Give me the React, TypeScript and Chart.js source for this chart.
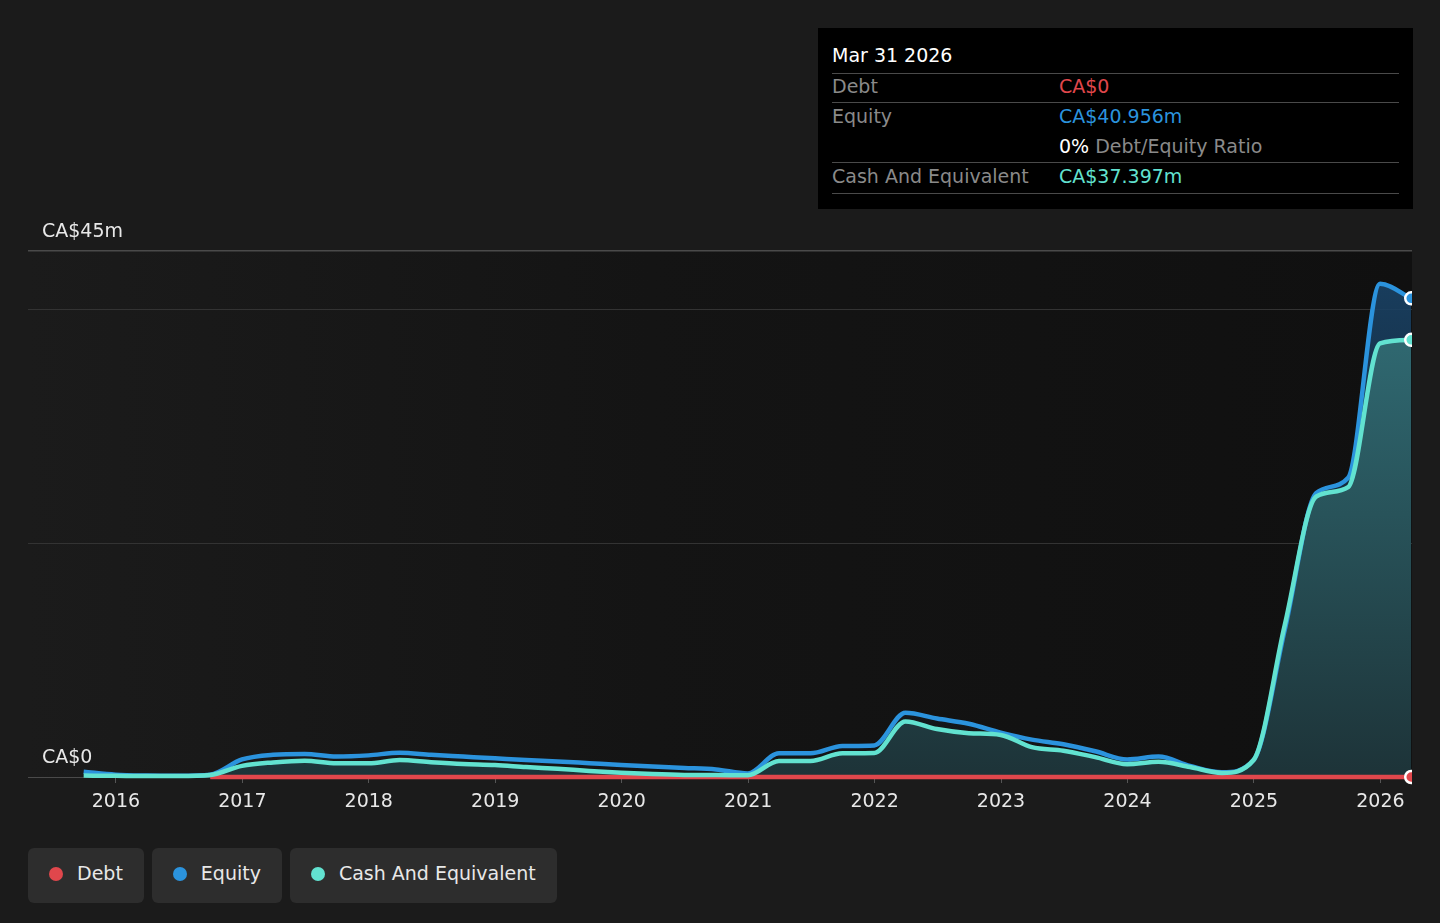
import React, { useEffect, useRef } from "react";
import { Chart, registerables } from "chart.js";

Chart.register(...registerables);

// ---- data (CA$ millions) ----
const quarterEnds = [
  "2015-09-30", "2015-12-31",
  "2016-03-31", "2016-06-30", "2016-09-30", "2016-12-31",
  "2017-03-31", "2017-06-30", "2017-09-30", "2017-12-31",
  "2018-03-31", "2018-06-30", "2018-09-30", "2018-12-31",
  "2019-03-31", "2019-06-30", "2019-09-30", "2019-12-31",
  "2020-03-31", "2020-06-30", "2020-09-30", "2020-12-31",
  "2021-03-31", "2021-06-30", "2021-09-30", "2021-12-31",
  "2022-03-31", "2022-06-30", "2022-09-30", "2022-12-31",
  "2023-03-31", "2023-06-30", "2023-09-30", "2023-12-31",
  "2024-03-31", "2024-06-30", "2024-09-30", "2024-12-31",
  "2025-03-31", "2025-06-30", "2025-09-30", "2025-12-31",
  "2026-03-31",
];

const equityM = [
  0.45, 0.2,
  0.12, 0.1, 0.2, 1.5,
  1.9, 1.97, 1.75, 1.85,
  2.08, 1.9, 1.75, 1.6,
  1.45, 1.33, 1.18, 1.03,
  0.9, 0.78, 0.65, 0.3,
  2.03, 2.03, 2.65, 2.7,
  5.5, 5.0, 4.55, 3.8,
  3.2, 2.8, 2.2, 1.5,
  1.75, 0.95, 0.4, 1.45,
  12.6, 24.3, 25.6, 42.2,
  40.956,
];

const cashM = [
  0.12, 0.1,
  0.08, 0.08, 0.17, 0.95,
  1.25, 1.4, 1.17, 1.17,
  1.45, 1.27, 1.12, 1.03,
  0.85, 0.7, 0.52, 0.37,
  0.25, 0.18, 0.17, 0.15,
  1.37, 1.37, 2.03, 2.05,
  4.75, 4.1, 3.75, 3.6,
  2.55, 2.25, 1.7, 1.1,
  1.3, 0.85, 0.35, 1.45,
  13.0, 24.0, 24.8, 37.1,
  37.397,
];

const debtM = [
  null, null,
  null, null, 0, 0,
  0, 0, 0, 0,
  0, 0, 0, 0,
  0, 0, 0, 0,
  0, 0, 0, 0,
  0, 0, 0, 0,
  0, 0, 0, 0,
  0, 0, 0, 0,
  0, 0, 0, 0,
  0, 0, 0, 0,
  0,
];

const yearTicks = [2016, 2017, 2018, 2019, 2020, 2021, 2022, 2023, 2024, 2025, 2026];
const yGridValues = [0, 20, 40, 45];
const yLabelValues = [0, 45];
const xMin = 2015.305;
const xMax = 2026.25;
const yMax = 45;

const RED = "#e0474c";
const BLUE = "#2b93dd";
const TEAL = "#62e2d0";
const FONT = "'DejaVu Sans', sans-serif";

function toDecimalYear(iso: string): number {
  const [y, m, d] = iso.split("-").map(Number);
  const start = Date.UTC(y, 0, 1);
  const end = Date.UTC(y + 1, 0, 1);
  const t = Date.UTC(y, m - 1, d);
  return y + (t - start) / (end - start);
}

function toPoints(values: (number | null)[]) {
  return values.map((v, i) => ({ x: toDecimalYear(quarterEnds[i]), y: v }));
}

const fmtMoney = (v: number) => (v === 0 ? "CA$0" : `CA$${v}m`);

const bgPlugin = {
  id: "areaBg",
  beforeDraw(chart: any) {
    const { ctx, chartArea } = chart;
    if (!chartArea) return;
    const g = ctx.createLinearGradient(chartArea.left, 0, chartArea.right, 0);
    g.addColorStop(0, "#1b1b1b");
    g.addColorStop(0.45, "#141414");
    g.addColorStop(1, "#101010");
    ctx.save();
    ctx.fillStyle = g;
    ctx.fillRect(chartArea.left, chartArea.top, chartArea.right - chartArea.left, chartArea.bottom - chartArea.top);
    ctx.restore();
  },
};

const yLabelPlugin = {
  id: "yLabels",
  afterDatasetsDraw(chart: any) {
    const { ctx, chartArea, scales } = chart;
    ctx.save();
    ctx.font = `19px ${FONT}`;
    ctx.fillStyle = "#e8e8e8";
    ctx.textAlign = "left";
    ctx.textBaseline = "alphabetic";
    yLabelValues.forEach((v) => {
      const py = scales.y.getPixelForValue(v);
      ctx.fillText(fmtMoney(v), chartArea.left + 14, py - 14);
    });
    ctx.restore();
  },
};

function lastOnly(r: number) {
  return (c: any) => (c.dataIndex === quarterEnds.length - 1 ? r : 0);
}

function ChartCanvas() {
  const ref = useRef<HTMLCanvasElement | null>(null);
  useEffect(() => {
    if (!ref.current) return;
    const clip = { left: 0, top: 10, right: 0, bottom: 10 };
    const LW = 4.5;
    const chart = new Chart(ref.current, {
      type: "line",
      data: {
        datasets: [
          {
            label: "Cash And Equivalent",
            data: toPoints(cashM),
            borderColor: TEAL,
            borderWidth: LW,
            pointRadius: lastOnly(6),
            pointBorderWidth: 2.5,
            pointBorderColor: "#ffffff",
            pointBackgroundColor: TEAL,
            cubicInterpolationMode: "monotone",
            clip,
            order: 0,
            fill: "origin",
            backgroundColor: (c: any) => {
              const { chart } = c;
              const a = chart.chartArea;
              if (!a) return "#1d3439";
              const g = chart.ctx.createLinearGradient(0, a.top, 0, a.bottom);
              g.addColorStop(0, "#33737c");
              g.addColorStop(1, "#1d3338");
              return g;
            },
          } as any,
          {
            label: "Equity",
            data: toPoints(equityM),
            borderColor: BLUE,
            borderWidth: LW,
            pointRadius: lastOnly(6),
            pointBorderWidth: 2.5,
            pointBorderColor: "#ffffff",
            pointBackgroundColor: BLUE,
            cubicInterpolationMode: "monotone",
            clip,
            order: 1,
            fill: "origin",
            backgroundColor: (c: any) => {
              const { chart } = c;
              const a = chart.chartArea;
              if (!a) return "rgba(25,64,96,0.5)";
              const g = chart.ctx.createLinearGradient(0, a.top, 0, a.bottom);
              g.addColorStop(0, "rgba(25,64,98,1)");
              g.addColorStop(1, "rgba(25,64,98,0)");
              return g;
            },
          } as any,
          {
            label: "Debt",
            data: toPoints(debtM),
            borderColor: RED,
            borderWidth: LW,
            pointRadius: lastOnly(6),
            pointBorderWidth: 2.5,
            pointBorderColor: "#ffffff",
            pointBackgroundColor: RED,
            cubicInterpolationMode: "monotone",
            clip,
            order: 2,
            fill: false,
          } as any,
        ],
      },
      options: {
        responsive: false,
        animation: false,
        events: [],
        layout: { padding: { top: 51, left: 28, right: 28, bottom: 0 } },
        plugins: {
          legend: { display: false },
          tooltip: { enabled: false },
          filler: { drawTime: "beforeDatasetsDraw" } as any,
        },
        scales: {
          x: {
            type: "linear",
            min: xMin,
            max: xMax,
            afterBuildTicks: (s: any) => {
              s.ticks = yearTicks.map((v) => ({ value: v }));
            },
            afterFit: (s: any) => {
              s.height = 53;
            },
            border: { display: false },
            grid: {
              drawOnChartArea: false,
              drawTicks: true,
              tickLength: 6,
              tickColor: "#555555",
              tickWidth: 1,
            },
            ticks: {
              autoSkip: false,
              maxRotation: 0,
              padding: 8,
              color: "#e8e8e8",
              font: { family: FONT, size: 19 },
              callback: (v: any) => String(v),
            },
          },
          y: {
            type: "linear",
            min: 0,
            max: yMax,
            afterBuildTicks: (s: any) => {
              s.ticks = yGridValues.map((v) => ({ value: v }));
            },
            afterFit: (s: any) => {
              s.width = 0;
            },
            border: { display: false },
            grid: {
              drawTicks: false,
              color: (c: any) => (c.tick && (c.tick.value === 45 || c.tick.value === 0) ? "#4a4a4a" : "#333333"),
              lineWidth: (c: any) => (c.tick && c.tick.value === 45 ? 1.5 : 1),
            },
            ticks: { display: false },
          },
        },
      },
      plugins: [bgPlugin, yLabelPlugin],
    });
    return () => chart.destroy();
  }, []);
  return <canvas ref={ref} width={1440} height={630} style={{ position: "absolute", left: 0, top: 200, width: 1440, height: 630 }} />;
}

const tipText = (top: number, left: number, color: string, text: React.ReactNode, size = 19) => (
  <div
    style={{
      position: "absolute",
      top: top - 12,
      left,
      height: 24,
      lineHeight: "24px",
      fontSize: size,
      color,
      whiteSpace: "nowrap",
    }}
  >
    {text}
  </div>
);

const tipLine = (top: number) => (
  <div style={{ position: "absolute", top, left: 14, width: 567, height: 1, background: "#4a4a4a" }} />
);

function TooltipBox() {
  // positions relative to box at (818, 28)
  return (
    <div
      style={{
        position: "absolute",
        left: 818,
        top: 28,
        width: 595,
        height: 181,
        background: "#000000",
        fontFamily: FONT,
      }}
    >
      {tipText(27, 14, "#ffffff", "Mar 31 2026")}
      {tipLine(45)}
      {tipText(58, 14, "#8a8a8a", "Debt")}
      {tipText(58, 241, RED, "CA$0")}
      {tipLine(74)}
      {tipText(88, 14, "#8a8a8a", "Equity")}
      {tipText(88, 241, BLUE, "CA$40.956m")}
      {tipText(118, 241, "#8a8a8a", (
        <>
          <span style={{ color: "#ffffff" }}>0%</span> Debt/Equity Ratio
        </>
      ))}
      {tipLine(134)}
      {tipText(148, 14, "#8a8a8a", "Cash And Equivalent")}
      {tipText(148, 241, TEAL, "CA$37.397m")}
      {tipLine(165)}
    </div>
  );
}

const legendItems = [
  { label: "Debt", color: RED },
  { label: "Equity", color: BLUE },
  { label: "Cash And Equivalent", color: TEAL },
];

function Legend() {
  return (
    <div
      style={{
        position: "absolute",
        left: 28,
        top: 848,
        display: "flex",
        gap: 8,
        fontFamily: FONT,
      }}
    >
      {legendItems.map((it) => (
        <div
          key={it.label}
          style={{
            display: "flex",
            alignItems: "center",
            height: 55,
            padding: "0 21px 0 21px",
            background: "#2d2d2d",
            borderRadius: 6,
            boxSizing: "border-box",
          }}
        >
          <span
            style={{
              display: "inline-block",
              width: 14,
              height: 14,
              borderRadius: "50%",
              background: it.color,
              marginRight: 14,
              position: "relative",
              top: -2,
            }}
          />
          <span style={{ color: "#e8e8e8", fontSize: 19, lineHeight: "24px", position: "relative", top: -3 }}>{it.label}</span>
        </div>
      ))}
    </div>
  );
}

export default function App() {
  return (
    <div
      style={{
        position: "fixed",
        left: 0,
        top: 0,
        width: 1440,
        height: 923,
        background: "#1b1b1b",
        overflow: "hidden",
      }}
    >
      <ChartCanvas />
      <TooltipBox />
      <Legend />
    </div>
  );
}
